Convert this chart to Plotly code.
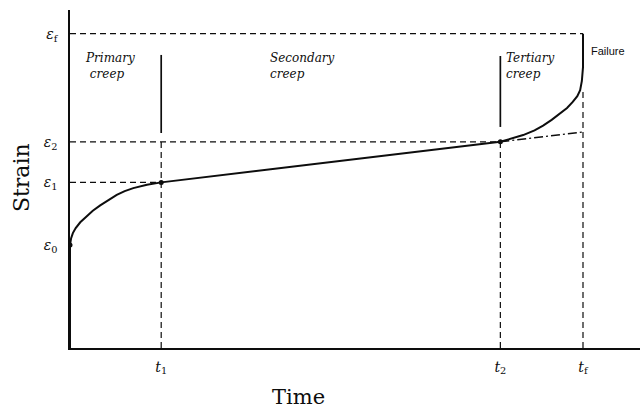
import plotly.graph_objects as go

# Characteristic strain levels and times of the creep curve
eps0, eps1, eps2, eps_f = 3.05, 4.9, 6.1, 9.3
t1, t2, t_f = 1.6, 7.55, 9.0
eps_ticks = [eps0, eps1, eps2, eps_f]
eps_text = ["<i>ε</i><sub>0</sub>", "<i>ε</i><sub>1</sub>", "<i>ε</i><sub>2</sub>", "<i>ε</i><sub>f</sub>"]
t_ticks = [t1, t2, t_f]
t_text = ["<i>t</i><sub>1</sub>", "<i>t</i><sub>2</sub>", "<i>t</i><sub>f</sub>"]

# Creep curve: instantaneous strain, primary, secondary and tertiary stages
load_time = [0, 0]
load_strain = [0, eps0]
primary_time = [0, 0.02, 0.05, 0.10, 0.18, 0.28, 0.40, 0.53, 0.68, 0.82, 0.96, 1.11, 1.35, 1.6]
primary_strain = [eps0, 3.25, 3.40, 3.55, 3.72, 3.88, 4.06, 4.22, 4.39, 4.53, 4.64, 4.73, 4.83, eps1]
secondary_time = [t1, t2]
secondary_strain = [eps1, eps2]
tertiary_time = [t2, 7.80, 7.95, 8.15, 8.30, 8.45, 8.60, 8.72, 8.82, 8.90, 8.95, 8.98, 9.0, 9.0]
tertiary_strain = [eps2, 6.22, 6.30, 6.44, 6.58, 6.75, 6.95, 7.10, 7.28, 7.45, 7.63, 7.90, 8.31, eps_f]

# Extrapolated steady-state line beyond t2
extrap_time = [t2, t_f]
extrap_strain = [eps2, 6.39]

ink = "#0d0d0d"
fig = go.Figure()

def line(x, y, width=1.2, dash="solid", color=ink):
    fig.add_trace(go.Scatter(x=x, y=y, mode="lines", hoverinfo="skip",
                             line=dict(color=color, width=width, dash=dash)))

dash = "6px,4px"
# Horizontal guides
line([0, t_f], [eps_f, eps_f], dash=dash)
line([0, t2], [eps2, eps2], dash=dash)
line([0, t1], [eps1, eps1], dash=dash)
# Vertical guides
line([t1, t1], [0, 6.2], dash=dash)
line([t2, t2], [0, eps2], dash=dash)
line([t_f, t_f], [0, 7.6], dash=dash)
# Stage separators
line([t1, t1], [6.36, 8.67], width=1.7)
line([t2, t2], [6.54, 8.64], width=1.7)
# Extrapolation
line(extrap_time, extrap_strain, width=1.4, dash="9px,3px,2px,3px")

# Creep curve
line(load_time, load_strain, width=2)
line(primary_time, primary_strain, width=2)
line(secondary_time, secondary_strain, width=2)
line(tertiary_time, tertiary_strain, width=2)

fig.add_trace(go.Scatter(x=[0, t1, t2], y=[eps0, eps1, eps2], mode="markers",
                         hoverinfo="skip", marker=dict(color=ink, size=5)))

label_font = dict(family="DejaVu Serif", size=12, color=ink)
stages = [
    (0.23, 8.35, "<i>Primary</i><br> <i>creep</i>"),
    (3.48, 8.35, "<i>Secondary</i><br><i>creep</i>"),
    (7.62, 8.35, "<i>Tertiary</i><br><i>creep</i>"),
]
for x, y, txt in stages:
    fig.add_annotation(x=x, y=y, text=txt, showarrow=False, xanchor="left",
                       yanchor="middle", align="left", font=label_font)

fig.add_annotation(x=t_f, y=8.8, text="Failure", showarrow=False, xanchor="left",
                   xshift=6, font=dict(family="Liberation Sans", size=11, color=ink))

fig.add_annotation(xref="paper", yref="paper", x=-0.084, y=0.503, text="Strain",
                   textangle=-90, showarrow=False, xanchor="center", yanchor="middle",
                   font=dict(family="DejaVu Serif", size=22, color=ink))
fig.add_annotation(xref="paper", yref="paper", x=0.40, y=-0.145, text="Time",
                   showarrow=False, xanchor="center", yanchor="middle",
                   font=dict(family="DejaVu Serif", size=21, color=ink))

tick_font = dict(family="DejaVu Serif", size=14, color=ink)
fig.update_layout(
    width=644, height=408, showlegend=False,
    margin=dict(l=70, r=4, t=10, b=60),
    paper_bgcolor="white", plot_bgcolor="white",
    xaxis=dict(range=[0, 10], showgrid=False, zeroline=False, showline=True,
               linecolor=ink, linewidth=1.5, tickvals=t_ticks, ticktext=t_text,
               ticks="", ticklabelstandoff=5, tickfont=tick_font, fixedrange=True),
    yaxis=dict(range=[0, 10], showgrid=False, zeroline=False, showline=True,
               linecolor=ink, linewidth=1.5, tickvals=eps_ticks, ticktext=eps_text,
               ticks="", ticklabelstandoff=8, tickfont=tick_font, fixedrange=True),
)

fig.write_html("out.html")
